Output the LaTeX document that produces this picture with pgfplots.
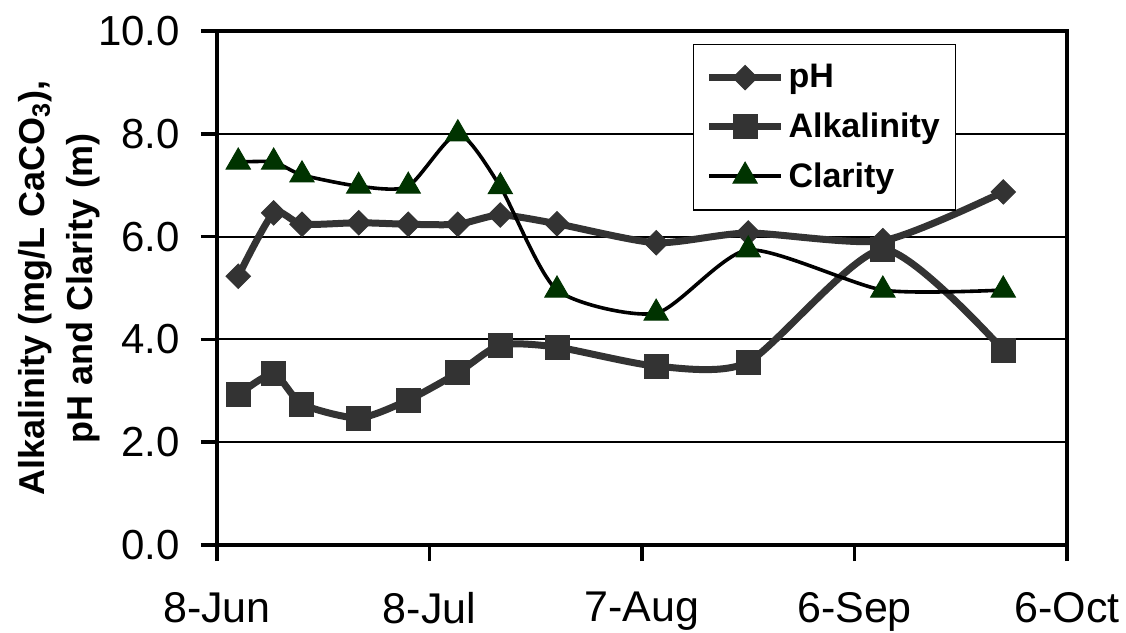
\documentclass[border=0pt]{standalone}
\usepackage{fontspec}
\setmainfont{Liberation Sans}
\usepackage{pgfplots}
\pgfplotsset{compat=1.18}

\definecolor{dgray}{HTML}{333333}
\definecolor{dgreen}{HTML}{003300}

% days counted from 8-Jun
\pgfplotstableread{
day  ph    alk   clar
3    5.23  2.92  7.45
8    6.46  3.33  7.45
12   6.24  2.74  7.20
20   6.27  2.47  6.98
27   6.24  2.82  6.98
34   6.24  3.35  8.00
40   6.42  3.89  6.97
48   6.25  3.85  4.96
62   5.88  3.48  4.51
75   6.07  3.56  5.74
94   5.92  5.75  4.96
111  6.87  3.79  4.96
}\lakedata

\begin{document}
\begin{tikzpicture}
\path[use as bounding box] (-108.5bp,-44bp) rectangle (454.5bp,272.5bp);
\begin{axis}[
    scale only axis,
    width=425bp, height=257bp,
    xmin=0, xmax=120,
    ymin=0, ymax=10,
    xtick={0,30,60,90,120},
    xticklabels={8-Jun,8-Jul,7-Aug,6-Sep,6-Oct},
    ytick={0,2,4,6,8,10},
    tick pos=left,
    /pgf/number format/assume math mode=true,
    yticklabel style={/pgf/number format/fixed, /pgf/number format/fixed zerofill,
        /pgf/number format/precision=1, xshift=-7bp, font=\fontsize{21bp}{25bp}\selectfont},
    xticklabel style={yshift=-12bp, font=\fontsize{21.5bp}{25bp}\selectfont},
    tick align=outside,
    major tick length=8bp,
    tick style={black, line width=1.8bp},
    axis line style={line width=1.8bp},
    ymajorgrids,
    major grid style={black, line width=1bp},
    every axis y label/.style={at={(axis description cs:-0.186,0.5)}, anchor=center, rotate=90,
        align=center, font=\bfseries\fontsize{18bp}{24bp}\selectfont},
    ylabel={Alkalinity (mg/L CaCO\textsubscript{3}),\\pH and Clarity (m)},
    legend style={at={(axis description cs:0.56,0.975)}, anchor=north west,
        draw=black, line width=0.6bp,
        font=\bfseries\fontsize{17bp}{20bp}\selectfont,
        row sep=7bp, inner xsep=6bp, inner ysep=8bp},
    legend cell align=left,
    legend image code/.code={\draw[mark repeat=2,mark phase=2,#1] plot coordinates {(0bp,0bp) (18bp,0bp) (36bp,0bp)};},
]
\addplot[dgray, line width=3.5bp, smooth, tension=0.4, mark=square*, mark size=4.3bp,
    mark options={rotate=45, fill=dgray, draw=dgray, line width=0.5bp}]
    table[x=day, y=ph] {\lakedata};
\addplot[dgray, line width=3.5bp, smooth, tension=0.4, mark=square*, mark size=6bp,
    mark options={fill=dgray, draw=dgray, line width=0.5bp}]
    table[x=day, y=alk] {\lakedata};
\addplot[black, line width=1.8bp, smooth, tension=0.4, mark=triangle*, mark size=7bp,
    mark options={fill=dgreen, draw=dgreen, line width=0.5bp}]
    table[x=day, y=clar] {\lakedata};
\legend{pH, Alkalinity, Clarity}
\end{axis}
\end{tikzpicture}
\end{document}
